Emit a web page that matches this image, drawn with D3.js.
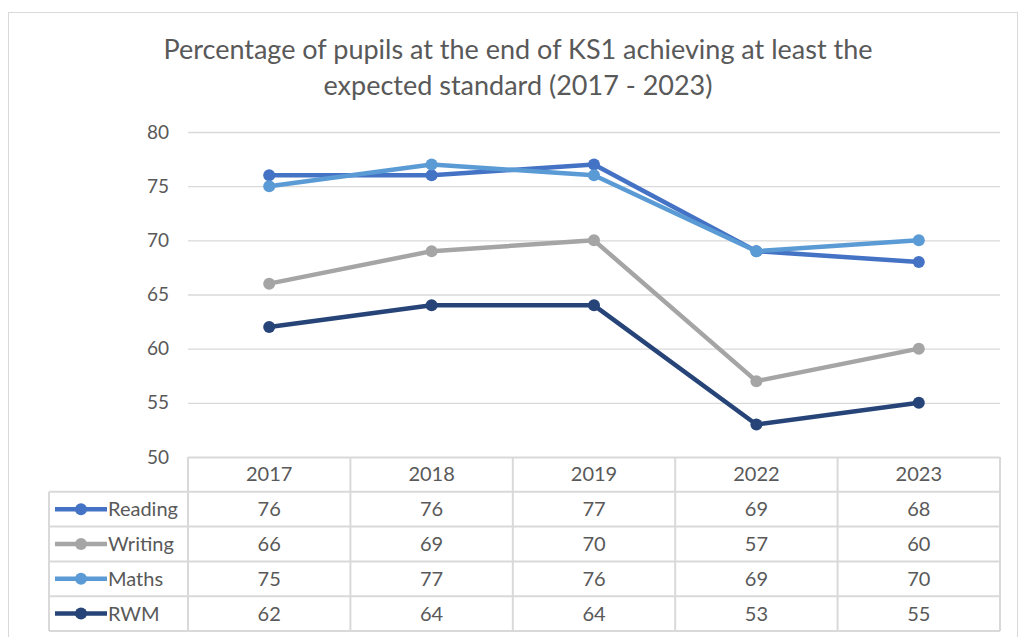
<!DOCTYPE html>
<html>
<head>
<script src="https://cdnjs.cloudflare.com/ajax/libs/d3/7.8.5/d3.min.js"></script>
<style>
body { margin: 0; background: #fff; }
text { font-family: Lato, "Liberation Sans", sans-serif; fill: #595959; }
</style>
</head>
<body>
<script>

var years = ["2017", "2018", "2019", "2022", "2023"]
var seriesNames = ["Reading", "Writing", "Maths", "RWM"]
var reading = [76, 76, 77, 69, 68]
var writing = [66, 69, 70, 57, 60]
var maths = [75, 77, 76, 69, 70]
var rwm = [62, 64, 64, 53, 55]
var yTicks = [50, 55, 60, 65, 70, 75, 80]
var titleLines = ["Percentage of pupils at the end of KS1 achieving at least the", "expected standard (2017 - 2023)"]

var colors = ["#4472C4", "#A5A5A5", "#5B9BD5", "#264478"]
var allValues = [reading, writing, maths, rwm]

var width = 1020, height = 637
var plotLeft = 188, plotRight = 1000, plotTop = 132, plotBottom = 457
var rowH = 34.8, legendLeft = 49

var svg = d3.select("body").append("svg")
    .attr("width", width)
    .attr("height", height)

// outer frame
svg.append("rect")
    .attr("x", 8.5).attr("y", 12.5)
    .attr("width", 1009).attr("height", 640)
    .attr("fill", "none").attr("stroke", "#d9d9d9")

// title
svg.selectAll(".title").data(titleLines).enter().append("text")
    .attr("x", 518)
    .attr("y", function(d, i) { return 59 + i * 36 })
    .attr("text-anchor", "middle")
    .style("font-size", "27px")
    .text(function(d) { return d })

var x = d3.scaleBand().domain(years).range([plotLeft, plotRight])
var y = d3.scaleLinear().domain([50, 80]).range([plotBottom, plotTop])

// gridlines
svg.append("g").selectAll("line").data(yTicks.slice(1)).enter().append("line")
    .attr("x1", plotLeft).attr("x2", plotRight)
    .attr("y1", function(d) { return y(d) + 0.5 })
    .attr("y2", function(d) { return y(d) + 0.5 })
    .attr("stroke", "#d9d9d9").attr("stroke-width", 1.3)

// y axis labels
var yAxis = d3.axisLeft(y).tickValues(yTicks).tickSize(0).tickPadding(0)
var yg = svg.append("g").attr("transform", "translate(169,0)").call(yAxis)
yg.select(".domain").remove()
yg.selectAll("text").style("font-size", "19px").attr("fill", "#595959")

// lines
var line = d3.line()
    .x(function(d, i) { return x(years[i]) + x.bandwidth() / 2 })
    .y(function(d) { return y(d) })

allValues.forEach(function(vals, s) {
    var g = svg.append("g")
    g.append("path").datum(vals)
        .attr("d", line)
        .attr("fill", "none")
        .attr("stroke", colors[s])
        .attr("stroke-width", 4.5)
        .attr("stroke-linejoin", "round")
    g.selectAll("circle").data(vals).enter().append("circle")
        .attr("cx", function(d, i) { return x(years[i]) + x.bandwidth() / 2 })
        .attr("cy", function(d) { return y(d) })
        .attr("r", 6)
        .attr("fill", colors[s])
})

// data table
var table = svg.append("g")
var gridCol = "#d9d9d9"
var tableBottom = plotBottom + rowH * 5

table.append("line")
    .attr("x1", plotLeft).attr("x2", plotRight)
    .attr("y1", plotBottom + 0.5).attr("y2", plotBottom + 0.5)
    .attr("stroke", gridCol).attr("stroke-width", 2)
for (var r = 1; r <= 5; r++) {
    table.append("line")
        .attr("x1", legendLeft).attr("x2", plotRight)
        .attr("y1", plotBottom + r * rowH).attr("y2", plotBottom + r * rowH)
        .attr("stroke", gridCol).attr("stroke-width", 2)
}
table.append("line")
    .attr("x1", legendLeft).attr("x2", legendLeft)
    .attr("y1", plotBottom + rowH).attr("y2", tableBottom)
    .attr("stroke", gridCol).attr("stroke-width", 2)
years.forEach(function(yr) {
    table.append("line")
        .attr("x1", x(yr)).attr("x2", x(yr))
        .attr("y1", plotBottom).attr("y2", tableBottom)
        .attr("stroke", gridCol).attr("stroke-width", 2)
})
table.append("line")
    .attr("x1", plotRight).attr("x2", plotRight)
    .attr("y1", plotBottom).attr("y2", tableBottom)
    .attr("stroke", gridCol).attr("stroke-width", 2)

// header
table.selectAll(".hdr").data(years).enter().append("text")
    .attr("x", function(d) { return x(d) + x.bandwidth() / 2 })
    .attr("y", plotBottom + rowH / 2 + 7)
    .attr("text-anchor", "middle")
    .style("font-size", "20px")
    .text(function(d) { return d })

// rows
seriesNames.forEach(function(name, s) {
    var cy = plotBottom + rowH * (s + 1) + rowH / 2
    table.append("line")
        .attr("x1", 55).attr("x2", 107)
        .attr("y1", cy).attr("y2", cy)
        .attr("stroke", colors[s]).attr("stroke-width", 4.5)
    table.append("circle")
        .attr("cx", 81).attr("cy", cy).attr("r", 6)
        .attr("fill", colors[s])
    table.append("text")
        .attr("x", 108).attr("y", cy + 7)
        .style("font-size", "20px")
        .text(name)
    table.selectAll(".v" + s).data(allValues[s]).enter().append("text")
        .attr("x", function(d, i) { return x(years[i]) + x.bandwidth() / 2 })
        .attr("y", cy + 7)
        .attr("text-anchor", "middle")
        .style("font-size", "20px")
        .text(function(d) { return d })
})

</script>
</body>
</html>
